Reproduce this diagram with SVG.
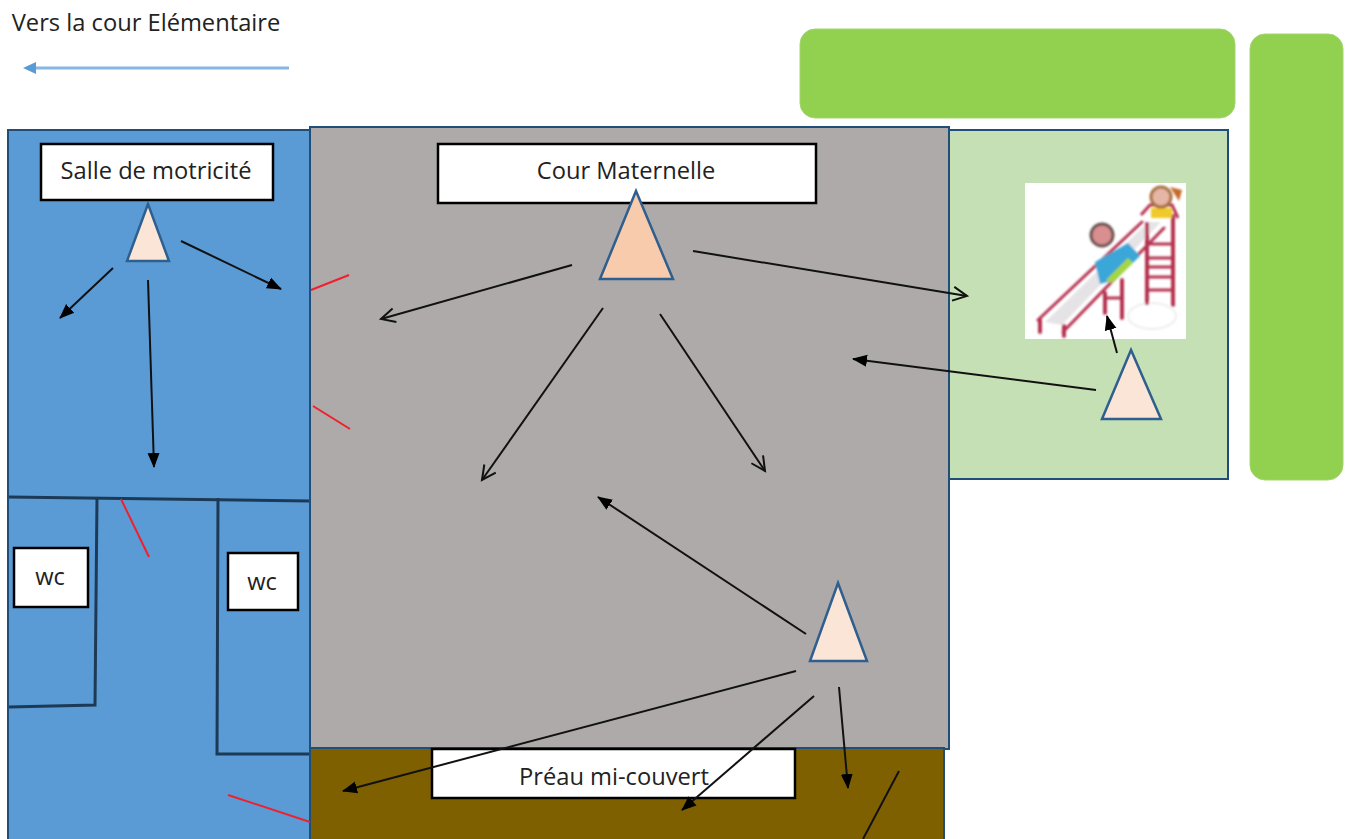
<svg xmlns="http://www.w3.org/2000/svg" width="1347" height="839" viewBox="0 0 1347 839">
<style>
text{font-family:"Open Sans","Noto Sans","DejaVu Sans",sans-serif;font-size:23.7px;fill:#222;text-anchor:middle}
.room{stroke:#1f4e79;stroke-width:2}
.label{fill:#fff;stroke:#000;stroke-width:2.5}
.tri{stroke:#2f5f8f;stroke-width:2.5}
.wall{fill:none;stroke:#1c3a55;stroke-width:3}
.door{stroke:#f0202c;stroke-width:2;fill:none}
.a{stroke:#111;stroke-width:2;fill:none;marker-end:url(#solid)}
.o{stroke:#111;stroke-width:2;fill:none;marker-end:url(#open)}
.s{fill:none;stroke:#b5304f;stroke-linecap:round}
</style>
<defs>
<filter id="soft" x="-5%" y="-5%" width="110%" height="110%"><feGaussianBlur stdDeviation="0.8"/></filter>
<marker id="solid" markerUnits="userSpaceOnUse" markerWidth="16" markerHeight="14" refX="14" refY="7" orient="auto"><path d="M0 1L15 7L0 13Z" fill="#000"/></marker>
<marker id="open" markerUnits="userSpaceOnUse" markerWidth="18" markerHeight="16" refX="15" refY="8" orient="auto"><path d="M1 1L15 8L1 15" fill="none" stroke="#111" stroke-width="2"/></marker>
<marker id="blue" markerUnits="userSpaceOnUse" markerWidth="16" markerHeight="14" refX="1" refY="7" orient="auto"><path d="M1 1L14 7L1 13Z" fill="#5b9bd5"/></marker>
</defs>
<rect width="1347" height="839" fill="#fff"/>
<g id="elementaire">
<text x="146" y="31">Vers la cour Elémentaire</text>
<path d="M289 68H36" stroke="#86b6e3" stroke-width="3" fill="none" marker-end="url(#blue)"/>
</g>
<g id="hedge-top"><rect x="800" y="29" width="435" height="89" rx="15" fill="#92d050" stroke="#a5d56f" stroke-width="1"/></g>
<g id="hedge-right"><rect x="1250" y="34" width="93" height="446" rx="15" fill="#92d050" stroke="#a5d56f" stroke-width="1"/></g>
<g id="salle">
<rect class="room" x="8" y="130" width="304" height="712" fill="#5b9bd5"/>
<path class="wall" d="M9 497L310 501"/>
<path class="wall" d="M97 498L95 705L9 707"/>
<path class="wall" d="M218 498L217 754H310"/>
</g>
<g id="jardin"><rect class="room" x="945" y="130" width="283" height="349" fill="#c5e0b4"/></g>
<g id="toboggan">
<rect x="1025" y="183" width="161" height="156" fill="#fff"/>
<g filter="url(#soft)">
<ellipse cx="1152" cy="316" rx="24" ry="13" fill="none" stroke="#eee" stroke-width="2"/>
<path d="M1045 322L1148 222L1161 222L1062 325Z" fill="#e5e3e6"/>
<path class="s" stroke-width="3" d="M1038 320L1142 222M1063 332L1164 228"/>
<path class="s" stroke-width="4" d="M1040 332V320M1064 336V326M1105 313V293M1122 318V280M1147 303V224M1173 305V216"/>
<path class="s" stroke-width="3" d="M1105 298H1122M1147 244H1173M1147 258H1173M1147 267H1173M1147 277H1173M1147 290H1173"/>
<path d="M1095 262L1128 243L1140 256L1115 280L1100 284Z" fill="#3aa6d8"/>
<path d="M1106 280L1128 258L1133 263L1112 283Z" fill="#a5d640"/>
<circle cx="1102" cy="235" r="11" fill="#d98f8f" stroke="#6b5050" stroke-width="3"/>
<path d="M1141 215L1150 205H1172L1178 218" fill="none" stroke="#b5304f" stroke-width="3"/>
<rect x="1151" y="208" width="21" height="10" fill="#f0c92c"/>
<circle cx="1161" cy="197" r="10" fill="#e6b5a5" stroke="#a8703d" stroke-width="3"/>
<path d="M1170 187l12 3l-3 11z" fill="#c66a2a"/>
</g>
</g>
<g id="cour"><rect class="room" x="310" y="127" width="639" height="622" fill="#aeaaaa"/></g>
<g id="preau">
<rect class="room" x="310" y="748" width="634" height="94" fill="#7f6000"/>
<path d="M899 771L863 839" stroke="#111" stroke-width="2" fill="none"/>
</g>
<g id="label-salle"><rect class="label" x="41" y="144" width="232" height="56"/><text x="156" y="179">Salle de motricité</text></g>
<g id="label-cour"><rect class="label" x="438" y="144" width="378" height="59"/><text x="626" y="179">Cour Maternelle</text></g>
<g id="label-preau"><rect class="label" x="432" y="749" width="363" height="49"/><text x="614" y="785">Préau mi-couvert</text></g>
<g id="wc1"><rect class="label" x="14" y="548" width="74" height="59"/><text x="50" y="585">wc</text></g>
<g id="wc2"><rect class="label" x="228" y="553" width="70" height="57"/><text x="262" y="590">wc</text></g>
<g id="t1"><path class="tri" d="M148 204L127 261H169Z" fill="#fbe5d6"/></g>
<g id="t2"><path class="tri" d="M636 191L600 279H673Z" fill="#f8cbad"/></g>
<g id="t3"><path class="tri" d="M1131 350L1102 419H1161Z" fill="#fbe5d6"/></g>
<g id="t4"><path class="tri" d="M838 583L810 661H867Z" fill="#fbe5d6"/></g>
<g id="doors">
<path class="door" d="M311 290L349 275"/>
<path class="door" d="M313 406L350 429"/>
<path class="door" d="M121 499L149 557"/>
<path class="door" d="M228 795L310 822"/>
</g>
<g id="connectors">
<path class="a" d="M181 241L281 289"/>
<path class="a" d="M113 268L60 318"/>
<path class="a" d="M148 280L154 467"/>
<path class="o" d="M572 265L381 319"/>
<path class="o" d="M693 251L967 296"/>
<path class="o" d="M603 308L482 480"/>
<path class="o" d="M660 314L765 471"/>
<path class="a" d="M1096 390L853 359"/>
<path class="a" d="M1117 353L1107 316"/>
<path class="a" d="M806 634L598 497"/>
<path class="a" d="M796 671L343 791"/>
<path class="a" d="M814 696L682 810"/>
<path class="a" d="M839 687L848 788"/>
</g>
</svg>
